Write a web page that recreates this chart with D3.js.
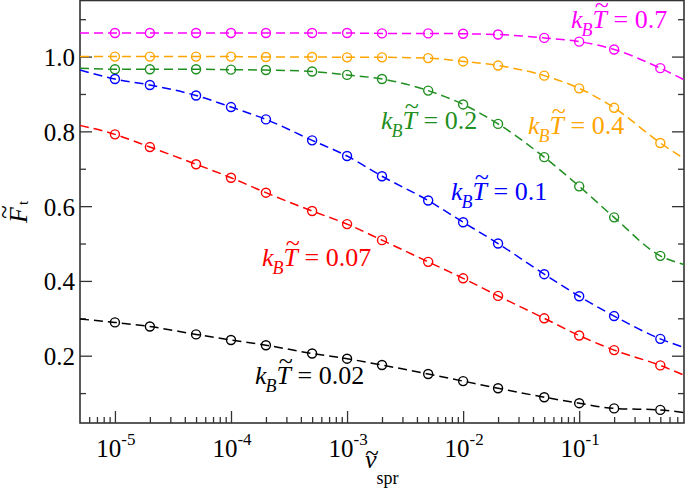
<!DOCTYPE html>
<html>
<head>
<meta charset="utf-8">
<script src="https://cdn.jsdelivr.net/npm/d3@7"></script>
<style>
  body { margin: 0; background: #fff; }
  .tick line { stroke: #333; stroke-width: 1.3; }
</style>
</head>
<body>
<svg width="685" height="488"></svg>
<script>
// spring velocities of the simulation points
const nu = [1e-5, 2e-5, 5e-5, 1e-4, 2e-4, 5e-4, 1e-3, 2e-3, 5e-3, 1e-2, 2e-2, 5e-2, 0.1, 0.2, 0.5];
// fit curves run past the points, to the frame edges
const nuLeft = 5e-6, nuRight = 0.8;

const temps = ['0.7', '0.4', '0.2', '0.1', '0.07', '0.02'];
const colors = ['#ff00ff', '#ffa500', '#1f8f1f', '#0000ff', '#ff0000', '#000000'];

const F07  = [1.063, 1.063, 1.063, 1.063, 1.063, 1.063, 1.063, 1.062, 1.062, 1.061, 1.059, 1.050, 1.040, 1.019, 0.969];
const F04  = [1.000, 1.000, 1.000, 1.000, 0.999, 0.999, 0.998, 0.998, 0.996, 0.987, 0.976, 0.949, 0.915, 0.863, 0.769];
const F02  = [0.966, 0.966, 0.966, 0.965, 0.964, 0.960, 0.951, 0.940, 0.909, 0.872, 0.820, 0.731, 0.653, 0.570, 0.467];
const F01  = [0.940, 0.924, 0.896, 0.865, 0.832, 0.776, 0.734, 0.680, 0.615, 0.557, 0.500, 0.418, 0.359, 0.306, 0.245];
const F007 = [0.792, 0.758, 0.712, 0.676, 0.636, 0.587, 0.552, 0.509, 0.451, 0.407, 0.360, 0.300, 0.254, 0.215, 0.174];
const F002 = [0.289, 0.278, 0.257, 0.242, 0.228, 0.206, 0.192, 0.175, 0.151, 0.132, 0.113, 0.089, 0.073, 0.059, 0.055];
const series = [F07, F04, F02, F01, F007, F002];
// fit values at the two frame edges
const fitLeft  = [1.063, 1.000, 0.969, 0.964, 0.816, 0.298];
const fitRight = [0.938, 0.727, 0.444, 0.222, 0.148, 0.048];

const xMajor = [1e-5, 1e-4, 1e-3, 1e-2, 1e-1];
const xExp = ['-5', '-4', '-3', '-2', '-1'];
const yMajor = [0.2, 0.4, 0.6, 0.8, 1.0];
const yMinor = [0.1, 0.3, 0.5, 0.7, 0.9, 1.1];

// label positions (baseline start) for each temperature
const labelPos = [[571, 28], [528, 134], [381, 129], [451, 200], [262, 266], [255, 384]];

const serif = '"Liberation Serif", Tinos, "Times New Roman", "DejaVu Serif", serif';

const svg = d3.select('svg').attr('font-family', serif);
const mLeft = 80, mRight = 684, mTop = 0.5, mBottom = 423;

const x = d3.scaleLog().domain([nuLeft, nuRight]).range([mLeft, mRight]);
const y = d3.scaleLinear().domain([0.02, 1.15]).range([mBottom, mTop]);

// minor x ticks: 2..9 times each decade inside the domain
const xMinor = [];
for (let e = -6; e <= -1; e++) {
  for (let m = 2; m <= 9; m++) {
    const v = m * Math.pow(10, e);
    if (v > nuLeft && v < nuRight - 1e-9) xMinor.push(v);
  }
}

// ticks
svg.append('g').attr('transform', `translate(0,${mBottom})`)
  .call(d3.axisBottom(x).tickValues(xMajor).tickSize(-12).tickFormat(''))
  .call(g => g.select('.domain').remove());
svg.append('g').attr('transform', `translate(0,${mBottom})`)
  .call(d3.axisBottom(x).tickValues(xMinor).tickSize(-6).tickFormat(''))
  .call(g => g.select('.domain').remove());

const yl = svg.append('g').attr('transform', `translate(${mLeft},0)`)
  .call(d3.axisLeft(y).tickValues(yMajor).tickSize(-12).tickPadding(5).tickFormat(d3.format('.1f')))
  .call(g => g.select('.domain').remove());
yl.attr('font-family', serif).attr('font-size', 25);
yl.selectAll('text').attr('fill', '#000').attr('dy', '0.36em');
svg.append('g').attr('transform', `translate(${mLeft},0)`)
  .call(d3.axisLeft(y).tickValues(yMinor).tickSize(-6).tickFormat(''))
  .call(g => g.select('.domain').remove());
svg.append('g').attr('transform', `translate(${mRight},0)`)
  .call(d3.axisRight(y).tickValues(yMajor).tickSize(-12).tickFormat(''))
  .call(g => g.select('.domain').remove());
svg.append('g').attr('transform', `translate(${mRight},0)`)
  .call(d3.axisRight(y).tickValues(yMinor).tickSize(-6).tickFormat(''))
  .call(g => g.select('.domain').remove());

// frame
svg.append('rect')
  .attr('x', mLeft).attr('y', mTop)
  .attr('width', mRight - mLeft).attr('height', mBottom - mTop)
  .attr('fill', 'none').attr('stroke', '#333').attr('stroke-width', 1.6);

// x tick labels 10^n
const xt = svg.selectAll('text.xt').data(xMajor).join('text')
  .attr('class', 'xt')
  .attr('x', d => x(d) + 1).attr('y', 457)
  .attr('text-anchor', 'middle').attr('font-size', 25);
xt.append('tspan').text('10');
xt.append('tspan').attr('font-size', 17).attr('dy', -12).text((d, i) => xExp[i]);

// curves
const line = d3.line()
  .x(d => x(d[0]))
  .y(d => y(d[1]))
  .curve(d3.curveMonotoneX);

series.forEach((vals, i) => {
  const fit = [[nuLeft, fitLeft[i]]].concat(nu.map((n, j) => [n, vals[j]]), [[nuRight, fitRight[i]]]);
  svg.append('path')
    .attr('d', line(fit))
    .attr('fill', 'none')
    .attr('stroke', colors[i])
    .attr('stroke-width', 1.5)
    .attr('stroke-dasharray', '9,5');
  svg.append('g').selectAll('circle').data(nu).join('circle')
    .attr('cx', d => x(d))
    .attr('cy', (d, j) => y(vals[j]))
    .attr('r', 4.5)
    .attr('fill', 'none')
    .attr('stroke', colors[i])
    .attr('stroke-width', 1.4);
});

// temperature labels  k_B T~ = value
function tempLabel(px, py, val, color) {
  const t = svg.append('text').attr('x', px).attr('y', py)
    .attr('fill', color).attr('font-size', 26);
  t.append('tspan').attr('font-style', 'italic').text('k');
  t.append('tspan').attr('font-style', 'italic').attr('font-size', 18).attr('dx', -1).attr('dy', 8).text('B');
  t.append('tspan').attr('font-style', 'italic').attr('dy', -8).text('T');
  t.append('tspan').text(' = ' + val);
  const node = t.node();
  const s = node.getStartPositionOfChar(2), e = node.getEndPositionOfChar(2);
  svg.append('text')
    .attr('x', (s.x + e.x) / 2 + 2).attr('y', py - 15)
    .attr('text-anchor', 'middle').attr('fill', color).attr('font-size', 26)
    .text('~');
}
temps.forEach((tv, i) => tempLabel(labelPos[i][0], labelPos[i][1], tv, colors[i]));

// x axis label
const xlab = svg.append('text').attr('x', 365).attr('y', 468).attr('font-size', 26);
xlab.append('tspan').attr('font-style', 'italic').text('v');
xlab.append('tspan').attr('font-size', 18).attr('dy', 16).text('spr');
svg.append('text').attr('x', 372).attr('y', 461).attr('text-anchor', 'middle')
  .attr('font-size', 25).text('~');

// y axis label
const ylabG = svg.append('g').attr('transform', 'translate(27,223) rotate(-90)');
const ylab = ylabG.append('text').attr('x', 0).attr('y', 0).attr('font-size', 26);
ylab.append('tspan').attr('font-style', 'italic').text('F');
ylab.append('tspan').attr('font-size', 15).attr('dx', 2).attr('dy', 1).text('t');
ylabG.append('text').attr('x', 11).attr('y', -15).attr('text-anchor', 'middle')
  .attr('font-size', 25).text('~');

svg.selectAll('text').attr('font-family', serif);
</script>
</body>
</html>
